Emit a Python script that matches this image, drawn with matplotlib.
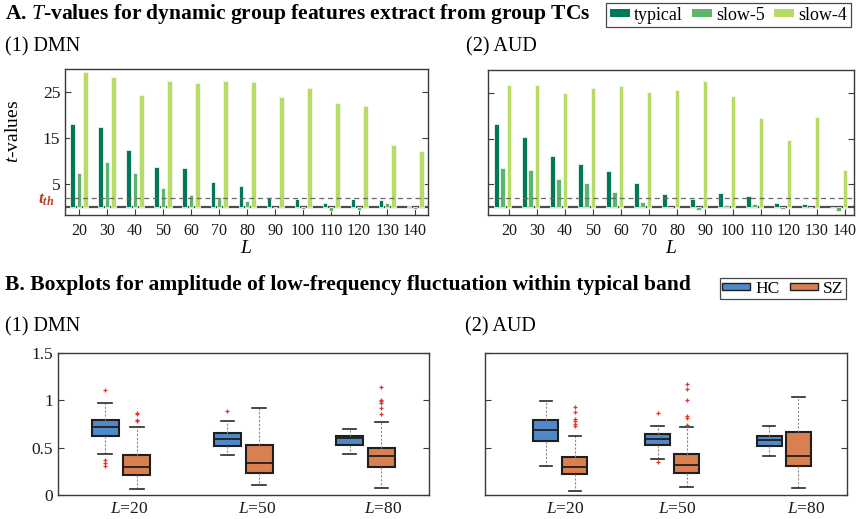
import matplotlib.pyplot as plt
from matplotlib.patches import Patch
import numpy as np

plt.rcParams['font.family'] = ['Liberation Serif', 'DejaVu Serif']
plt.rcParams['mathtext.fontset'] = 'custom'
plt.rcParams['mathtext.rm'] = 'Liberation Serif'
plt.rcParams['mathtext.it'] = 'Liberation Serif:italic'
plt.rcParams['mathtext.bf'] = 'Liberation Serif:bold:italic'

# ---- panel A data: t-values per window length L ----
L_vals = [20, 30, 40, 50, 60, 70, 80, 90, 100, 110, 120, 130, 140]
bands = ['typical', 'slow-5', 'slow-4']
band_colors = ['#00795a', '#5db56b', '#b6dc66']

dmn_typical = [18.1, 17.4, 12.5, 8.8, 8.5, 5.4, 4.6, 2.3, 1.7, 0.8, 1.7, 1.5, 0.3]
dmn_slow5 = [7.5, 9.9, 7.5, 4.1, 2.7, 2.2, 1.4, 0.1, -0.5, -0.9, -0.6, 0.9, -0.4]
dmn_slow4 = [29.3, 28.3, 24.3, 27.3, 27.0, 27.5, 27.2, 23.9, 25.9, 22.6, 22.0, 13.4, 12.3]

aud_typical = [18.1, 15.3, 11.1, 9.4, 8.0, 5.4, 2.8, 1.8, 3.1, 2.5, 0.9, 0.7, 0.1]
aud_slow5 = [8.5, 8.1, 6.2, 5.4, 3.4, 1.2, -0.1, -0.6, 0.4, 0.7, -0.4, 0.05, -0.8]
aud_slow4 = [26.8, 26.8, 25.0, 26.1, 26.4, 25.1, 25.7, 27.5, 24.3, 19.6, 14.6, 19.8, 8.2]

t_th = 2.0

# ---- panel B data: boxplot summaries (HC, SZ) ----
groups = ['HC', 'SZ']
group_colors = ['#4f89c8', '#da8050']
box_labels = ['20', '50', '80']

# each entry: whislo, q1, med, q3, whishi, fliers
dmn_boxes = {
    'HC': [(0.434, 0.618, 0.717, 0.79, 0.97, [1.108, 0.37, 0.342, 0.307]),
           (0.424, 0.515, 0.59, 0.65, 0.784, [0.89]),
           (0.43, 0.533, 0.597, 0.628, 0.70, [])],
    'SZ': [(0.064, 0.212, 0.297, 0.424, 0.72, [0.868, 0.858, 0.794, 0.777]),
           (0.106, 0.237, 0.335, 0.533, 0.914, []),
           (0.07, 0.293, 0.41, 0.50, 0.77, [1.137, 1.006, 0.995, 0.97, 0.918, 0.854])],
}
aud_boxes = {
    'HC': [(0.307, 0.575, 0.688, 0.79, 0.995, []),
           (0.378, 0.53, 0.59, 0.642, 0.724, [0.861, 0.353]),
           (0.417, 0.515, 0.582, 0.618, 0.724, [])],
    'SZ': [(0.042, 0.222, 0.30, 0.406, 0.628, [0.932, 0.875, 0.80, 0.78, 0.752, 0.73]),
           (0.088, 0.23, 0.318, 0.43, 0.717, [1.172, 1.119, 1.006, 0.83, 0.815, 0.738]),
           (0.078, 0.304, 0.41, 0.664, 1.038, [])],
}

W, H = 856, 519
fig = plt.figure(figsize=(W / 100, H / 100), dpi=100)


def px_axes(x0, y0, x1, y1):
    return fig.add_axes([x0 / W, 1 - y1 / H, (x1 - x0) / W, (y1 - y0) / H])


def style_frame(ax):
    for s in ax.spines.values():
        s.set_color('#3a3a3a')
        s.set_linewidth(1.0)
    ax.tick_params(direction='in', length=4, width=0.8, colors='#3a3a3a',
                   labelcolor='#1a1a1a', labelsize=12.5, right=True)


def bar_panel(ax, series, shift, th, show_y):
    x = np.array(L_vals, dtype=float)
    off = [-2.2, 0.0, 2.2]
    ax.axhline(0, color='#4d4d4d', lw=1.6, zorder=1)
    for k, vals in enumerate(series):
        ax.bar(x + off[k] + shift, vals, width=1.7, color=band_colors[k],
               edgecolor='#f2f7ee', linewidth=0.6, zorder=2)
    ax.axhline(th, color='#6a6a6a', lw=0.9, ls=(0, (4, 3)), zorder=3)
    ax.set_ylim(-1.7, 30)
    ax.set_yticks([5, 15, 25])
    ax.set_xticks(L_vals)
    style_frame(ax)
    ax.tick_params(axis='x', labelsize=11.5, pad=5.5)
    ax.set_xlabel('$L$', fontsize=14, labelpad=1)
    if show_y:
        ax.set_ylabel('$t$-values', fontsize=14)
        ax.yaxis.set_label_coords(-0.118, 0.57)
        ax.text(-0.028, th - 0.3, r'$\mathbf{t_{th}}$', color='#c0392b', fontsize=12.5,
                transform=ax.get_yaxis_transform(), ha='right', va='center')
    else:
        ax.set_yticklabels([])


ax1 = px_axes(65, 69, 428, 215)
bar_panel(ax1, [dmn_typical, dmn_slow5, dmn_slow4], 0.0, t_th, True)
ax1.set_xlim(15, 144.6)

ax2 = px_axes(488, 70, 854, 215)
bar_panel(ax2, [aud_typical, aud_slow5, aud_slow4], -2.2, t_th, False)
ax2.set_xlim(12.5, 143.2)


def box_panel(ax, boxes, spread, label_shift, show_y):
    pos = np.arange(1, len(box_labels) + 1)
    offs = [-0.13, 0.13]
    for g, name in enumerate(groups):
        stats = []
        for lo, q1, med, q3, hi, fl in boxes[name]:
            stats.append(dict(whislo=lo, q1=q1, med=med, q3=q3, whishi=hi, fliers=fl))
        ax.bxp(stats, positions=pos + offs[g], widths=0.22, patch_artist=True,
               showfliers=True, manage_ticks=False,
               boxprops=dict(facecolor=group_colors[g], edgecolor='#1f1f1f', linewidth=1.5),
               medianprops=dict(color='#1f1f1f', linewidth=1.3),
               whiskerprops=dict(color='#8a8a8a', linewidth=0.8, ls=(0, (2, 1.5))),
               capprops=dict(color='#2a2a2a', linewidth=1.2),
               capwidths=0.11,
               flierprops=dict(marker='+', markersize=3.5, markeredgecolor='#e8302a',
                               markeredgewidth=0.9))
    ax.set_ylim(0, 1.5)
    ax.set_yticks([0, 0.5, 1, 1.5])
    ax.set_yticklabels(['0', '0.5', '1', '1.5'])
    ax.set_xlim(spread)
    ax.set_xticks(pos + label_shift)
    ax.set_xticklabels(['$L$=' + s for s in box_labels])
    style_frame(ax)
    ax.tick_params(axis='x', length=0, pad=4, labelsize=12.5)
    if not show_y:
        ax.set_yticklabels([])


ax3 = px_axes(58, 353, 429, 495)
box_panel(ax3, dmn_boxes, (0.484, 3.52), np.array([0.07, 0.11, 0.145]), True)

ax4 = px_axes(485, 353, 847, 495)
box_panel(ax4, aud_boxes, (0.327, 3.565), np.array([0.04, 0.05, 0.2]), False)

# ---- titles ----
fig.text(5 / W, 1 - 14 / H, r'A. $\mathbf{\mathit{T}}$-values for dynamic group features extract from group TCs',
         fontsize=15.5, fontweight='bold', va='center')
fig.text(5 / W, 1 - 285 / H, 'B. Boxplots for amplitude of low-frequency fluctuation within typical band',
         fontsize=15.5, fontweight='bold', va='center')
fig.text(5 / W, 1 - 47 / H, '(1) DMN', fontsize=14.5, va='center')
fig.text(466 / W, 1 - 47 / H, '(2) AUD', fontsize=14.5, va='center')
fig.text(5 / W, 1 - 327 / H, '(1) DMN', fontsize=14.5, va='center')
fig.text(465 / W, 1 - 327 / H, '(2) AUD', fontsize=14.5, va='center')

# ---- legends ----
hA = [Patch(facecolor=c, edgecolor='none') for c in band_colors]
legA = fig.legend(hA, bands, loc='upper right', bbox_to_anchor=(851 / W, 1 - 3 / H),
                  ncol=3, frameon=True, fancybox=False, edgecolor='#1a1a1a',
                  fontsize=13, handlelength=1.1, handleheight=0.3, columnspacing=0.5,
                  handletextpad=0.25, borderpad=0.2, borderaxespad=0)
legA.get_frame().set_linewidth(0.9)

hB = [Patch(facecolor=c, edgecolor='#1f1f1f', linewidth=1.0) for c in group_colors]
legB = fig.legend(hB, groups, loc='upper right', bbox_to_anchor=(846 / W, 1 - 278 / H),
                  ncol=2, frameon=True, fancybox=False, edgecolor='#1a1a1a',
                  fontsize=12.5, handlelength=1.6, handleheight=0.3, columnspacing=0.6,
                  handletextpad=0.3, borderpad=0.15, borderaxespad=0)
legB.get_frame().set_linewidth(0.9)

fig.savefig('out.png', dpi=100)
